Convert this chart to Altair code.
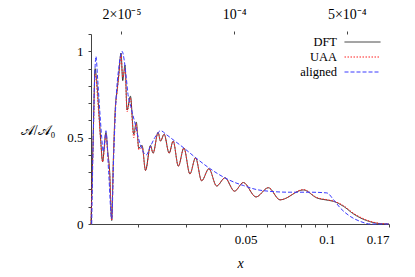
import altair as alt
import pandas as pd

# ---- data ----
x_dft = [0.01334, 0.01359, 0.01382, 0.01394, 0.01412, 0.01431, 0.01450, 0.01474, 0.01493, 0.01516,
         0.01539, 0.01565, 0.01592, 0.01613, 0.01643, 0.01666, 0.01690, 0.01724, 0.01749, 0.01784,
         0.01815, 0.01868, 0.01922, 0.01964, 0.02006, 0.02063, 0.02125, 0.02217, 0.02267, 0.02366,
         0.02415, 0.02491, 0.02600, 0.02691, 0.02813, 0.02949, 0.03105, 0.03259, 0.03431, 0.03652,
         0.03901, 0.04188, 0.04544, 0.04898, 0.05461, 0.06067, 0.06705, 0.08187, 0.09182, 0.1014,
         0.1058, 0.1153, 0.1256, 0.1409, 0.1579, 0.17]
y_dft = [0.0, 0.50, 0.90, 0.86, 0.76, 0.62, 0.48, 0.36, 0.44, 0.53,
         0.42, 0.30, 0.02, 0.35, 0.68, 0.77, 0.86, 0.99, 0.83, 0.92,
         0.66, 0.74, 0.52, 0.59, 0.44, 0.455, 0.31, 0.455, 0.41, 0.53,
         0.48, 0.52, 0.41, 0.48, 0.335, 0.44, 0.29, 0.384, 0.25, 0.32,
         0.22, 0.267, 0.19, 0.24, 0.157, 0.21, 0.14, 0.197, 0.151, 0.137,
         0.131, 0.102, 0.058, 0.019, 0.002, 0.0]
y_uaa = [0.0, 0.48, 0.87, 0.84, 0.72, 0.60, 0.47, 0.36, 0.43, 0.52,
         0.41, 0.29, 0.02, 0.34, 0.67, 0.76, 0.85, 0.98, 0.85, 0.90,
         0.65, 0.73, 0.50, 0.58, 0.43, 0.45, 0.31, 0.45, 0.41, 0.53,
         0.48, 0.52, 0.41, 0.48, 0.335, 0.44, 0.29, 0.384, 0.25, 0.32,
         0.22, 0.267, 0.19, 0.24, 0.157, 0.21, 0.14, 0.199, 0.153, 0.139,
         0.133, 0.106, 0.062, 0.022, 0.003, 0.0]
x_aligned = [0.01342, 0.01392, 0.01412, 0.01437, 0.01462, 0.01481, 0.01516, 0.01551, 0.01592, 0.01620,
             0.01652, 0.01690, 0.01739, 0.01771, 0.01802, 0.01830, 0.01873, 0.01938, 0.02023, 0.02139,
             0.02203, 0.02300, 0.02422, 0.02527, 0.02731, 0.02949, 0.03259, 0.03652, 0.04188, 0.04562,
             0.04898, 0.05461, 0.06067, 0.07304, 0.08669, 0.1000, 0.1058, 0.1121, 0.1221, 0.1330,
             0.1449, 0.17]
y_aligned = [0.0, 0.97, 0.84, 0.66, 0.50, 0.42, 0.54, 0.30, 0.03, 0.40,
             0.72, 0.90, 1.0, 0.95, 0.85, 0.75, 0.68, 0.59, 0.47, 0.40,
             0.44, 0.50, 0.54, 0.52, 0.48, 0.44, 0.384, 0.325, 0.267, 0.24,
             0.223, 0.20, 0.19, 0.184, 0.184, 0.18, 0.141, 0.093, 0.044, 0.015,
             0.0, 0.0]

series_names = ["DFT", "UAA", "aligned"]
series_colors = ["#333333", "#ff2020", "#3a3aff"]
series_dash = [[1, 0], [1.5, 1.5], [4, 2]]

x_domain = [0.01334, 0.17]
x_ticks = [0.02, 0.03, 0.04, 0.05, 0.06, 0.07, 0.08, 0.09, 0.1, 0.17]
x_labeled = [0.05, 0.1, 0.17]
y_domain = [0, 1.1]
y_ticks = [0, 0.1, 0.2, 0.3, 0.4, 0.5, 0.6, 0.7, 0.8, 0.9, 1.0, 1.1]
y_labeled = [0, 0.5, 1]
top_domain = [1.294e-5, 9.14e-4]
top_ticks = [2e-5, 1e-4, 5e-4]
top_labels = ["2×10⁻⁵", "10⁻⁴", "5×10⁻⁴"]

rows = []
for xv, yv in zip(x_dft, y_dft):
    rows.append({"x": xv, "y": yv, "series": "DFT"})
for xv, yv in zip(x_dft, y_uaa):
    rows.append({"x": xv, "y": yv, "series": "UAA"})
for xv, yv in zip(x_aligned, y_aligned):
    rows.append({"x": xv, "y": yv, "series": "aligned"})
df = pd.DataFrame(rows)


def pick_expr(values, labels):
    expr = "''"
    for v, l in reversed(list(zip(values, labels))):
        expr = f"abs(datum.value - {v}) < {abs(v) * 1e-3 + 1e-9} ? '{l}' : {expr}"
    return expr


x_label_expr = pick_expr(x_labeled, [f"{v:g}" for v in x_labeled])
y_label_expr = pick_expr(y_labeled, [f"{v:g}" for v in y_labeled])
top_label_expr = pick_expr(top_ticks, top_labels)

FONT = "Liberation Serif"

lines = alt.Chart(df).mark_line(strokeWidth=1, interpolate="monotone").encode(
    x=alt.X("x:Q",
            scale=alt.Scale(type="log", domain=x_domain),
            axis=alt.Axis(orient="bottom", values=x_ticks, labelExpr=x_label_expr,
                          title="x", titleFontStyle="italic", titleFontWeight="normal",
                          titleFontSize=14, titlePadding=10, tickSize=3, labelPadding=6,
                          grid=False)),
    y=alt.Y("y:Q",
            scale=alt.Scale(domain=y_domain, nice=False),
            axis=alt.Axis(values=y_ticks, labelExpr=y_label_expr,
                          title="𝒜/𝒜₀", titleAngle=0, titleAlign="right",
                          titleBaseline="middle", titleX=-36, titleY=96,
                          titleFontWeight="normal", titleFontSize=14,
                          tickSize=3, labelPadding=5, grid=False)),
    color=alt.Color("series:N", sort=series_names,
                    scale=alt.Scale(domain=series_names, range=series_colors),
                    legend=alt.Legend(title=None)),
    strokeDash=alt.StrokeDash("series:N", sort=series_names,
                              scale=alt.Scale(domain=series_names, range=series_dash),
                              legend=alt.Legend(title=None)),
    order=alt.Order("x:Q"),
)

top = alt.Chart(pd.DataFrame({"t": top_domain})).mark_point(opacity=0).encode(
    x=alt.X("t:Q",
            scale=alt.Scale(type="log", domain=top_domain),
            axis=alt.Axis(orient="top", values=top_ticks, labelExpr=top_label_expr,
                          title=None, domain=False, tickSize=3, labelPadding=10,
                          labelFontSize=14, grid=False)),
)

chart = alt.layer(lines, top).resolve_scale(x="independent").properties(
    width=298, height=190,
    autosize=alt.AutoSizeParams(type="none"),
    padding={"left": 83, "top": 26, "right": 18, "bottom": 45},
).configure_view(stroke=None).configure_axis(
    labelFont=FONT, titleFont=FONT, labelFontSize=13, labelColor="#000",
    titleColor="#000", domainColor="#444", tickColor="#444",
).configure_legend(
    orient="none", legendX=265, legendY=1.5, labelFont=FONT, labelFontSize=12.5,
    labelColor="#000", labelAlign="right", labelOffset={"expr": "-32"},
    symbolType="M-3,0H3", symbolSize=144, symbolStrokeWidth=1, symbolFillColor="transparent",
    padding=0, rowPadding=2,
)

chart.save("out.html", embed_options={"renderer": "svg", "actions": False})
